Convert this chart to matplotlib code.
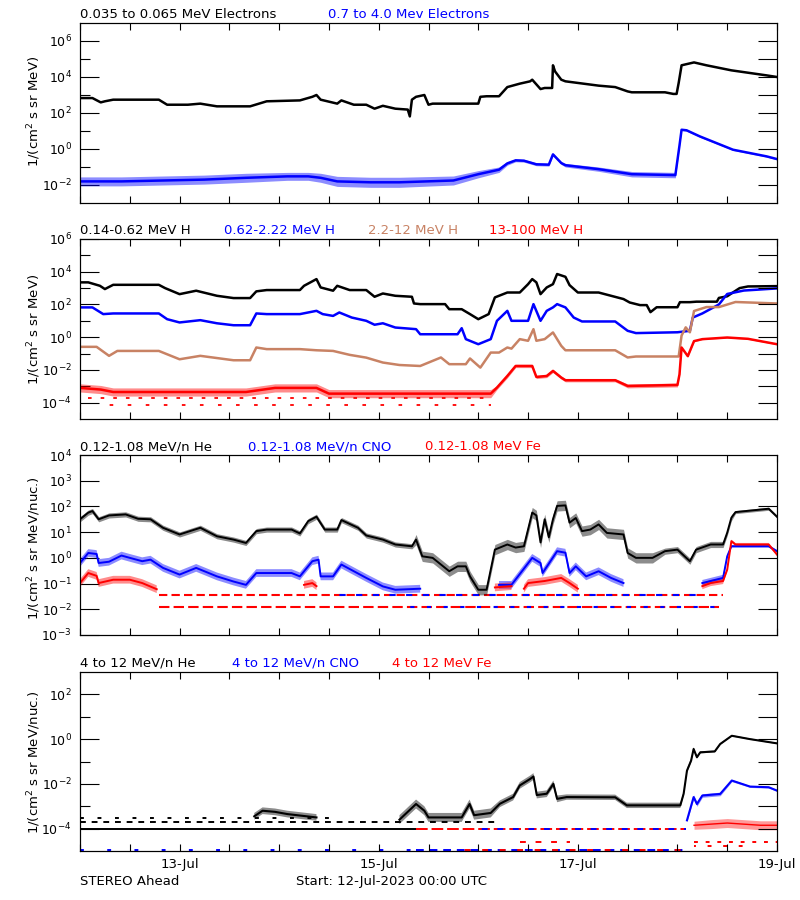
import datetime as dt
import numpy as np
import matplotlib
matplotlib.use("Agg")
import matplotlib.pyplot as plt
import matplotlib.dates as mdates
from matplotlib.ticker import FixedLocator, NullFormatter, LogFormatterSciNotation, NullLocator

nan = float("nan")
START = dt.datetime(2023, 7, 12)
END = dt.datetime(2023, 7, 19)

# ---------------- DATA (hours since start, log10 of flux) ----------------
# Panel 1: electrons
elec_lo_hr = [0, 3, 5, 6, 8, 19, 21, 26, 29, 33,
              41, 45, 53, 56, 57, 58, 62, 63, 66, 69,
              71, 73, 76, 79, 79.5, 80, 81, 83, 84, 85,
              96, 96.5, 98, 101, 103, 106, 108.5, 109, 111, 112,
              113.8, 114, 114.5, 116, 117, 125, 129, 132, 133, 141,
              143, 143.8, 144.3, 145, 148, 151, 157, 165.5, 168]
elec_lo_log = [2.83, 2.83, 2.59, 2.65, 2.74, 2.74, 2.46, 2.46, 2.52, 2.37,
               2.37, 2.65, 2.7, 2.9, 3.0, 2.74, 2.52, 2.7, 2.46, 2.46,
               2.24, 2.4, 2.24, 2.19, 1.81, 2.74, 2.9, 3.0, 2.46, 2.52,
               2.52, 2.9, 2.93, 2.93, 3.44, 3.63, 3.76, 3.85, 3.33, 3.39,
               3.39, 4.65, 4.31, 3.85, 3.76, 3.52, 3.44, 3.2, 3.15, 3.15,
               3.06, 3.06, 3.67, 4.65, 4.81, 4.65, 4.37, 4.09, 4.0]

elec_hi_hr = [0, 10, 20, 30, 40, 50, 55, 58, 62, 70,
              77, 90, 96, 101, 103, 105, 107, 110, 113, 114,
              116, 117, 125, 133, 143.5, 144.5, 145, 146.2, 149.4, 157.4,
              165.5, 168]
elec_hi_log = [-1.8, -1.8, -1.75, -1.7, -1.6, -1.52, -1.52, -1.6, -1.8, -1.85,
               -1.85, -1.75, -1.4, -1.15, -0.8, -0.63, -0.65, -0.85, -0.87, -0.3,
               -0.78, -0.9, -1.12, -1.4, -1.45, 0.2, 1.07, 1.04, 0.7, -0.04,
               -0.41, -0.56]
elec_hi_spread = [0.25, 0.25, 0.25, 0.25, 0.25, 0.22, 0.22, 0.25, 0.28, 0.28,
                  0.28, 0.25, 0.2, 0.15, 0.1, 0.08, 0.08, 0.08, 0.08, 0.08,
                  0.08, 0.1, 0.12, 0.15, 0.15, 0.05, 0.05, 0.05, 0.05, 0.04,
                  0.04, 0.04]

# Panel 2: protons
h_lo_hr = [0, 2, 4.8, 6, 8, 19, 20.5, 24, 28, 33,
           37, 41, 42.5, 45, 53, 54, 57, 58, 61, 62,
           65, 69, 71, 73, 76, 80, 80.5, 82, 88, 89,
           92, 94, 96, 98.5, 100, 103, 106, 108, 109, 110,
           111, 112.5, 114, 115, 117, 118, 120, 125, 131, 132.5,
           135, 136.6, 137.5, 139, 144, 144.6, 147, 148.6, 153.5, 154,
           156, 157, 159, 161, 168]
h_lo_log = [3.35, 3.35, 3.14, 2.94, 3.2, 3.2, 3.0, 2.63, 2.84, 2.53,
            2.39, 2.39, 2.8, 2.88, 2.88, 3.14, 3.55, 3.04, 2.84, 3.14,
            2.88, 2.88, 2.47, 2.67, 2.53, 2.47, 2.06, 2.02, 2.02, 1.71,
            1.71, 1.41, 1.1, 1.41, 2.43, 2.73, 2.73, 3.24, 3.55, 3.35,
            2.63, 3.04, 3.24, 3.86, 3.69, 3.18, 2.73, 2.73, 2.33, 2.12,
            1.96, 1.96, 1.53, 1.83, 1.83, 2.14, 2.14, 2.17, 2.17, 2.4,
            2.5, 2.67, 3.0, 3.1, 3.12]

h_mid_hr = [0, 3, 5.6, 8, 19, 21, 24, 29, 33, 37,
            41, 42.5, 45, 53, 57, 58.5, 61, 62.5, 65.5, 69,
            71, 73, 76, 81, 82, 91, 92, 93, 96, 99,
            100.5, 103, 104, 108, 109.3, 111, 112.5, 114, 115, 117,
            119, 121, 129, 132, 134, 144, 147, 147.7, 150, 154,
            156, 160, 168]
h_mid_log = [1.82, 1.82, 1.41, 1.45, 1.45, 1.1, 0.9, 1.04, 0.85, 0.73,
             0.73, 1.45, 1.41, 1.41, 1.61, 1.41, 1.3, 1.51, 1.2, 1.0,
             0.76, 0.85, 0.59, 0.49, 0.18, 0.18, 0.55, -0.12, -0.43, -0.12,
             1.0, 1.61, 1.0, 1.0, 2.02, 1.0, 1.61, 1.82, 2.02, 1.82,
             1.2, 0.96, 0.96, 0.39, 0.25, 0.3, 0.39, 1.2, 1.45, 2.0,
             2.64, 2.85, 2.98]

h_high_hr = [0, 4, 7, 9, 19, 24, 29, 37, 41, 42.5,
             45, 53, 57, 61, 65, 69, 73, 77, 82, 87,
             89, 93, 94, 96.5, 99, 101, 103, 104, 106, 108,
             109.3, 110, 112, 114, 116, 117, 129, 132, 134, 144.3,
             145, 146, 147, 148, 151, 154, 158, 168]
h_high_log = [-0.59, -0.59, -1.14, -0.84, -0.84, -1.35, -1.14, -1.41, -1.41, -0.63,
              -0.73, -0.73, -0.8, -0.84, -1.08, -1.25, -1.55, -1.7, -1.76, -1.24,
              -1.65, -1.65, -1.3, -1.86, -0.94, -0.94, -0.63, -0.7, -0.12, -0.22,
              0.49, -0.22, -0.12, 0.29, -0.53, -0.8, -0.8, -1.24, -1.18, -1.18,
              0.1, 0.6, 0.3, 1.6, 1.84, 1.84, 2.15, 2.06]

h_top_hr = [0, 5, 8, 40, 47, 57, 60, 99, 100.5, 103,
            105, 109, 110, 112.5, 114, 116, 117, 129, 132, 144,
            144.5, 145, 146.5, 148, 150, 156, 161, 168]
h_top_log = [-3.1, -3.2, -3.35, -3.35, -3.1, -3.1, -3.45, -3.45, -3.08, -2.37,
             -1.76, -1.76, -2.43, -2.37, -2.06, -2.47, -2.63, -2.63, -2.98, -2.92,
             -2.27, -0.63, -1.16, -0.24, -0.12, -0.02, -0.1, -0.43]
h_top_spread = [0.25, 0.25, 0.25, 0.25, 0.25, 0.25, 0.25, 0.25, 0.12, 0.12,
                0.1, 0.1, 0.1, 0.1, 0.1, 0.1, 0.1, 0.1, 0.12, 0.12,
                0.05, 0.05, 0.05, 0.04, 0.03, 0.03, 0.03, 0.03]
h_top_floor_value = [10 ** -3.69, 10 ** -4.14]
h_top_floor_start = [2, 4]
h_top_floor_end = [99, 99]

# Panel 3: 0.12-1.08 MeV/n heavy ions
he_lo_hr = [0, 2, 3, 4.5, 7, 11, 14, 17, 20, 24,
            29, 33, 37, 40, 42.5, 45, 51, 53, 55, 57,
            59, 62, 63, 67, 69, 73, 76, 80, 81, 82.5,
            85, 89, 91, 93, 94, 96, 98, 100, 103, 105,
            107, 109, 110, 111, 112, 113, 114, 115, 117, 118,
            119.5, 121, 123, 125, 127, 131, 132, 134, 138, 141,
            144, 147, 148.5, 152, 155, 156, 157, 158, 166, 168]
he_lo_log = [1.5, 1.76, 1.82, 1.5, 1.65, 1.69, 1.52, 1.5, 1.17, 0.91,
             1.17, 0.84, 0.71, 0.58, 1.04, 1.1, 1.1, 0.95, 1.43, 1.6,
             1.1, 1.1, 1.47, 1.17, 0.87, 0.71, 0.52, 0.45, 0.71, 0.06,
             0.0, -0.52, -0.33, -0.33, -0.72, -1.24, -1.24, 0.32, 0.52, 0.4,
             0.45, 1.76, 1.65, 0.6, 1.5, 0.8, 1.5, 2.02, 2.04, 1.37,
             1.55, 1.04, 1.1, 1.3, 0.97, 0.91, 0.19, 0.0, 0.0, 0.26,
             0.32, -0.13, 0.32, 0.52, 0.52, 0.98, 1.56, 1.78, 1.91, 1.6]
he_lo_spread = [0.1, 0.1, 0.1, 0.1, 0.1, 0.1, 0.1, 0.1, 0.1, 0.1,
                0.1, 0.1, 0.1, 0.1, 0.1, 0.1, 0.1, 0.1, 0.1, 0.1,
                0.1, 0.1, 0.1, 0.1, 0.1, 0.1, 0.1, 0.1, 0.2, 0.2,
                0.2, 0.2, 0.2, 0.2, 0.2, 0.2, 0.2, 0.2, 0.2, 0.2,
                0.2, 0.2, 0.2, 0.2, 0.2, 0.2, 0.2, 0.2, 0.2, 0.2,
                0.2, 0.2, 0.2, 0.2, 0.2, 0.2, 0.2, 0.2, 0.2, 0.12,
                0.12, 0.12, 0.12, 0.12, 0.12, 0.12, 0.12, 0.06, 0.06, 0.06]

cno_lo_hr = [0, 2, 4, 4.5, 7, 10, 12, 15, 17, 20,
             24, 28, 33, 37, 40, 42.5, 45, 51, 53, 56,
             57.5, 58, 61, 63, 66, 69, 73, 76, 82, 83,
             100, 101, 104, 109, 111, 111.5, 115, 117, 118, 119.5,
             122, 125, 128, 131, 132, 149, 150, 155, 156, 157,
             166, 168]
cno_lo_log = [-0.2, 0.19, 0.15, -0.2, -0.15, 0.09, 0.0, -0.13, -0.07, -0.39,
              -0.65, -0.39, -0.72, -0.92, -1.05, -0.59, -0.59, -0.59, -0.72, -0.13,
              -0.07, -0.72, -0.72, -0.26, -0.52, -0.78, -1.11, -1.24, -1.2, nan,
              nan, -1.05, -1.05, 0.0, -0.2, -0.59, 0.26, 0.2, -0.59, -0.33,
              -0.72, -0.52, -0.78, -0.98, nan, nan, -0.98, -0.78, 0.06, 0.45,
              0.45, 0.26]
cno_lo_spread = [0.15, 0.15, 0.15, 0.15, 0.15, 0.15, 0.15, 0.15, 0.15, 0.15,
                 0.15, 0.15, 0.15, 0.15, 0.15, 0.15, 0.15, 0.15, 0.15, 0.15,
                 0.15, 0.15, 0.15, 0.15, 0.15, 0.15, 0.15, 0.15, 0.15, 0.15,
                 0.15, 0.15, 0.15, 0.15, 0.15, 0.15, 0.15, 0.15, 0.15, 0.15,
                 0.15, 0.15, 0.15, 0.15, 0.12, 0.12, 0.12, 0.12, 0.05, 0.05,
                 0.05, 0.05]

fe_lo_hr = [0, 2, 4, 4.5, 8, 12, 15, 18.5, 19, 53,
            54, 56, 57, 99, 100, 104, 105, 107, 108, 112,
            116, 118, 120, 121, 149, 150, 152, 155, 156, 157,
            158, 166, 168]
fe_lo_log = [-0.98, -0.59, -0.7, -0.98, -0.85, -0.85, -0.98, -1.22, nan, nan,
             -1.05, -0.98, -1.1, nan, -1.15, -1.1, nan, -1.2, -0.98, -0.9,
             -0.78, -0.98, -1.2, nan, nan, -1.1, -0.98, -0.9, -0.46, 0.65,
             0.52, 0.52, 0.13]
fe_lo_spread = [0.15, 0.15, 0.15, 0.15, 0.15, 0.15, 0.15, 0.15, 0.15, 0.15,
                0.15, 0.15, 0.15, 0.15, 0.15, 0.15, 0.15, 0.15, 0.15, 0.15,
                0.15, 0.15, 0.15, 0.15, 0.12, 0.12, 0.12, 0.12, 0.06, 0.06,
                0.06, 0.06, 0.06]

p3_floor_species = ["Fe", "CNO", "Fe", "CNO"]
p3_floor_value = [0.036, 0.036, 0.012, 0.012]
p3_floor_start = [19, 60, 19, 78]
p3_floor_end = [155, 150, 154, 154]

# Panel 4: 4-12 MeV/n heavy ions
he_hi_hr = [42, 44, 47, 50, 57, 58,
            77, 81, 83, 84, 92, 93.9, 95, 99, 101.2, 104.4,
            106, 108.5, 109.3, 110.1, 112.5, 114.1, 115, 117.3, 129, 131.8,
            144.7, 145.5, 146.3, 147.3, 147.9, 148.7, 149.5, 153, 154.3, 157.1,
            161.5, 168]
he_hi_log = [-3.45, -3.2, -3.25, -3.35, -3.5, nan,
             -3.6, -2.9, -3.2, -3.5, -3.5, -2.9, -3.4, -3.3, -2.89, -2.59,
             -2.07, -1.78, -1.67, -2.5, -2.44, -2.0, -2.67, -2.59, -2.6, -2.96,
             -2.96, -2.44, -1.41, -0.96, -0.44, -0.81, -0.59, -0.55, -0.22, 0.15,
             0.0, -0.19]
he_hi_spread = [0.15, 0.15, 0.15, 0.15, 0.15, 0.15,
                0.2, 0.2, 0.2, 0.2, 0.2, 0.2, 0.2, 0.2, 0.15, 0.15,
                0.15, 0.15, 0.15, 0.15, 0.15, 0.15, 0.15, 0.12, 0.12, 0.12,
                0.12, 0.1, 0.1, 0.1, 0.08, 0.06, 0.05, 0.04, 0.04, 0.03,
                0.03, 0.03]

cno_hi_hr = [146.3, 147.9, 148.7, 150, 154.3, 157.1, 161.5, 166, 168]
cno_hi_log = [-3.63, -2.59, -2.9, -2.52, -2.45, -1.85, -2.12, -2.15, -2.3]
cno_hi_spread = [0.05, 0.1, 0.1, 0.08, 0.08, 0.05, 0.04, 0.04, 0.04]

fe_hi_hr = [148, 152, 156, 160, 164, 168]
fe_hi_log = [-3.85, -3.8, -3.75, -3.8, -3.85, -3.85]
fe_hi_spread = [0.18, 0.2, 0.2, 0.2, 0.2, 0.2]

p4_floor_species = ["He", "He", "He", "Fe", "CNO", "CNO", "CNO", "Fe", "Fe", "Fe", "Fe"]
p4_floor_value = [1e-4, 2e-4, 3e-4, 1e-4, 1e-4, 1.12e-5, 1.12e-5, 1.12e-5, 2.5e-5, 2.5e-5, 1.6e-5]
p4_floor_start = [0, 0, 0, 81, 95, 0, 81, 90, 106, 148, 148]
p4_floor_end = [81, 100, 60, 146, 146, 80, 146, 146, 118, 168, 160]

# ---------------- STYLE / DRAWING ----------------
BLACK = "#000000"
BLUE = "#0000ff"
TAN = "#c88264"
RED = "#ff0000"
SPECIES_COLOR = {"He": BLACK, "CNO": BLUE, "Fe": RED}

plt.rcParams["font.family"] = ["DejaVu Sans"]
plt.rcParams["mathtext.default"] = "regular"

W, H = 800, 900
fig = plt.figure(figsize=(8, 9), dpi=100)


def rect(top, bottom):
    return [80 / W, 1 - bottom / H, (777 - 80) / W, (bottom - top) / H]


def times(hours):
    return [START + dt.timedelta(hours=float(h)) for h in hours]


def trace(ax, hr, lg, color, lw=1.8, spread=None, alpha=0.45, z=2):
    t = times(hr)
    lg = np.asarray(lg, float)
    if spread is not None:
        s = np.asarray(spread, float)
        ax.fill_between(t, 10 ** (lg - s), 10 ** (lg + s), color=color,
                        alpha=alpha, lw=0, zorder=z)
    ax.plot(t, 10 ** lg, color=color, lw=lw, zorder=z + 0.1)


def floor_line(ax, h0, h1, val, color, ls, lw=1.5, z=1.5):
    ax.plot(times([h0, h1]), [val, val], color=color, lw=lw, ls=ls,
            zorder=z, solid_capstyle="butt", dash_capstyle="butt")


def style_axes(ax, ylim, major, minor, right, xlabels=False):
    ax.set_yscale("log")
    ax.set_ylim(*ylim)
    ax.set_xlim(START, END)
    tw = ax.twinx()
    tw.set_yscale("log")
    tw.set_ylim(*ylim)
    tw.yaxis.set_major_locator(FixedLocator(right))
    tw.yaxis.set_minor_locator(NullLocator())
    tw.tick_params(axis="y", which="major", direction="in", length=14,
                   width=0.8, labelright=False, right=True, left=False)
    ax.yaxis.set_major_locator(FixedLocator(major))
    ax.yaxis.set_minor_locator(FixedLocator(minor))
    ax.yaxis.set_major_formatter(LogFormatterSciNotation())
    ax.yaxis.set_minor_formatter(NullFormatter())
    ax.tick_params(axis="y", which="major", direction="in", length=14,
                   width=0.8, left=True, right=False, labelsize=9, pad=6)
    ax.tick_params(axis="y", which="minor", direction="in", length=7,
                   width=0.8, left=True, right=False)
    ax.xaxis.set_major_locator(mdates.DayLocator(bymonthday=[13, 15, 17, 19]))
    ax.xaxis.set_minor_locator(mdates.HourLocator(byhour=[0, 12]))
    ax.xaxis.set_major_formatter(mdates.DateFormatter("%d-%b"))
    ax.tick_params(axis="x", which="both", direction="in", length=5,
                   width=0.8, top=True, bottom=True, labelbottom=xlabels,
                   labelsize=9.5, pad=5)
    for a in (ax, tw):
        for sp in a.spines.values():
            sp.set_linewidth(0.8)


def title(y, items):
    for x, txt, col in items:
        fig.text(x / W, 1 - y / H, txt, color=col, fontsize=9.5,
                 ha="left", va="baseline")


def ylabel(yc, txt):
    fig.text(34 / W, 1 - yc / H, txt, rotation=90, ha="center",
             va="center", fontsize=9.5)


# Panel 1
ax1 = fig.add_axes(rect(23, 203))
style_axes(ax1, (1e-3, 1e7), [1e-2, 1e0, 1e2, 1e4, 1e6],
           [1e-1, 1e1, 1e3, 1e5], [10.0 ** k for k in range(-2, 7)])
trace(ax1, elec_lo_hr, elec_lo_log, BLACK)
trace(ax1, elec_hi_hr, elec_hi_log, BLUE, spread=elec_hi_spread)
title(18, [(80, "0.035 to 0.065 MeV Electrons", BLACK),
           (328, "0.7 to 4.0 Mev Electrons", BLUE)])
ylabel(111, "1/(cm$^2$ s sr MeV)")

# Panel 2
ax2 = fig.add_axes(rect(239, 419))
style_axes(ax2, (1e-5, 1e6), [1e-4, 1e-2, 1e0, 1e2, 1e4, 1e6],
           [1e-3, 1e-1, 1e1, 1e3, 1e5], [10.0 ** k for k in range(-4, 6)])
for v, a, b, ls in zip(h_top_floor_value, h_top_floor_start, h_top_floor_end,
                       [(0, (2, 5)), (3, (2, 8))]):
    floor_line(ax2, a, b, v, RED, ls, lw=1.3)
trace(ax2, h_lo_hr, h_lo_log, BLACK)
trace(ax2, h_mid_hr, h_mid_log, BLUE)
trace(ax2, h_high_hr, h_high_log, TAN)
trace(ax2, h_top_hr, h_top_log, RED, spread=h_top_spread)
title(234, [(80, "0.14-0.62 MeV H", BLACK), (224, "0.62-2.22 MeV H", BLUE),
            (368, "2.2-12 MeV H", TAN), (489, "13-100 MeV H", RED)])
ylabel(329, "1/(cm$^2$ s sr MeV)")

# Panel 3
ax3 = fig.add_axes(rect(455, 635))
style_axes(ax3, (1e-3, 1e4), [10.0 ** k for k in range(-3, 5)], [],
           [10.0 ** k for k in range(-2, 4)])
trace(ax3, he_lo_hr, he_lo_log, BLACK, spread=he_lo_spread, lw=1.4)
floor_styles3 = [(0, (4, 2)), (3, (3, 5)), (0, (5, 2)), (5, (2, 6))]
for sp_, v, a, b, ls in zip(p3_floor_species, p3_floor_value, p3_floor_start,
                            p3_floor_end, floor_styles3):
    floor_line(ax3, a, b, v, SPECIES_COLOR[sp_], ls, lw=1.5)
trace(ax3, cno_lo_hr, cno_lo_log, BLUE, spread=cno_lo_spread, lw=1.4)
trace(ax3, fe_lo_hr, fe_lo_log, RED, spread=fe_lo_spread, lw=1.4)
title(450, [(80, "0.12-1.08 MeV/n He", BLACK), (248, "0.12-1.08 MeV/n CNO", BLUE),
            (425, "0.12-1.08 MeV Fe", RED)])
ylabel(548, "1/(cm$^2$ s sr MeV/nuc.)")

# Panel 4
ax4 = fig.add_axes(rect(672, 851))
style_axes(ax4, (1e-5, 1e3), [1e-4, 1e-2, 1e0, 1e2], [1e-3, 1e-1, 1e1],
           [10.0 ** k for k in range(-4, 3)], xlabels=True)
floor_styles4 = ["-", (0, (3, 3)), (0, (2, 7)), (0, (6, 2)), (4, (3, 5)),
                 (0, (2, 12)), (0, (4, 3)), (3, (3, 6)), (0, (3, 5)),
                 (0, (2, 4)), (1, (2, 6))]
for sp_, v, a, b, ls in zip(p4_floor_species, p4_floor_value, p4_floor_start,
                            p4_floor_end, floor_styles4):
    floor_line(ax4, a, b, v, SPECIES_COLOR[sp_], ls, lw=1.4)
trace(ax4, he_hi_hr, he_hi_log, BLACK, spread=he_hi_spread, lw=1.5)
trace(ax4, cno_hi_hr, cno_hi_log, BLUE, spread=cno_hi_spread, lw=1.5)
trace(ax4, fe_hi_hr, fe_hi_log, RED, spread=fe_hi_spread, lw=1.0, alpha=0.4)
title(667, [(80, "4 to 12 MeV/n He", BLACK), (232, "4 to 12 MeV/n CNO", BLUE),
            (392, "4 to 12 MeV Fe", RED)])
ylabel(762, "1/(cm$^2$ s sr MeV/nuc.)")

fig.text(80 / W, 1 - 885 / H, "STEREO Ahead", fontsize=9.5, ha="left", va="baseline")
fig.text(296 / W, 1 - 885 / H, "Start: 12-Jul-2023 00:00 UTC", fontsize=9.5,
         ha="left", va="baseline")

fig.savefig("out.png", dpi=100, facecolor="white")
